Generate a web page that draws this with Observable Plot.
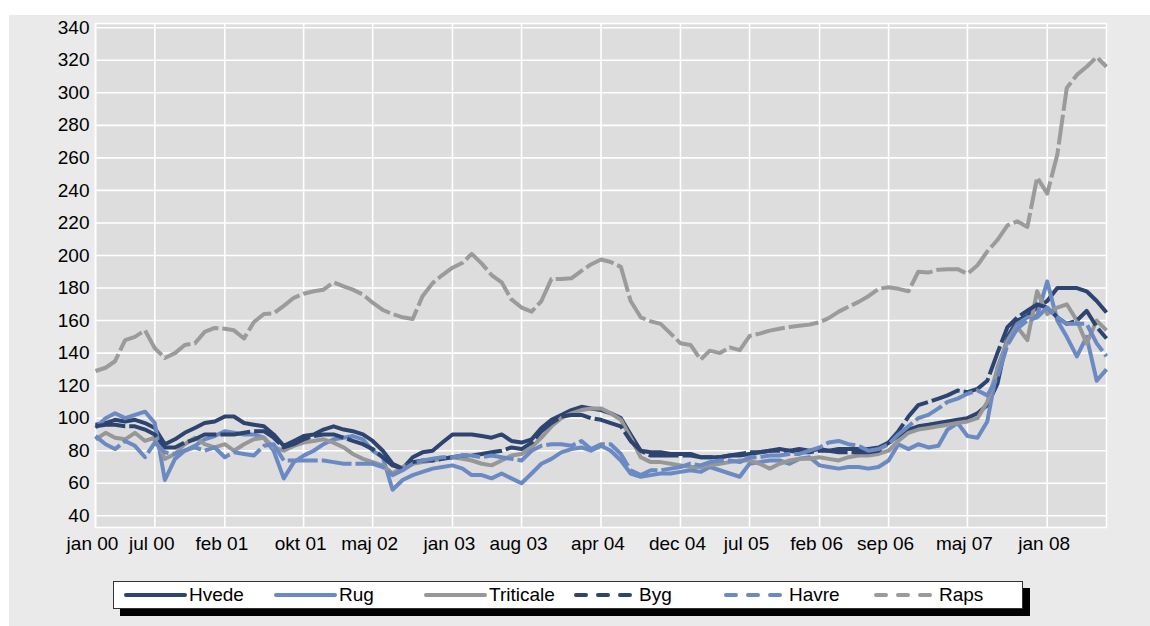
<!DOCTYPE html>
<html>
<head>
<meta charset="utf-8">
<script src="https://cdn.jsdelivr.net/npm/d3@7"></script>
<script src="https://cdn.jsdelivr.net/npm/@observablehq/plot@0.6"></script>
<style>
  html, body { margin: 0; padding: 0; background: #ffffff; }
  #wrap { position: relative; width: 1150px; height: 626px; overflow: hidden; font-family: "Liberation Sans", Arial, sans-serif; }
  #bg { position: absolute; left: 9px; top: 15px; right: 0; bottom: 0; background: #eaeaea; }
  #chart { position: absolute; left: 0; top: 0; }
  #legend { position: absolute; left: 113px; top: 581px; width: 908px; height: 26px; background: #fff;
            border: 1px solid #333; box-shadow: 7px 7px 0 #000; }
  .item { position: absolute; top: 0; height: 26px; display: flex; align-items: center; font-size: 19px; color: #000; }
  .item svg { display: block; margin-right: 2px; }
</style>
</head>
<body>
<div id="wrap">
  <div id="bg"></div>
  <div id="chart"></div>
  <div id="legend"></div>
</div>
<script>
// Monthly observations from jan 2000 to jul 2008 (index 0 = jan 2000)
const startMonth = "2000-01-01";
const endMonthExclusive = "2008-08-01";

const hvede = [96,97,99,98,99,97,94,84,87,91,94,97,98,101,101,97,96,95,90,83,86,89,90,93,95,93,92,90,86,80,72,69,76,79,80,85,90,90,90,89,88,90,86,85,87,94,99,102,105,107,106,105,103,100,90,80,79,79,78,78,78,76,76,76,77,77,78,79,80,81,80,81,80,81,80,81,81,81,81,82,85,89,93,95,96,97,98,99,100,103,108,121,150,160,163,168,172,180,180,180,178,172,165];
const rug = [94,100,103,100,102,104,97,62,75,80,83,87,89,92,91,90,90,88,80,63,73,77,80,84,87,88,89,87,80,76,56,62,65,67,69,70,71,69,65,65,63,66,63,60,66,72,75,79,81,82,80,83,80,74,66,64,65,66,66,67,68,67,70,68,66,64,72,73,74,74,72,75,76,71,70,69,70,70,69,70,74,84,81,84,82,83,93,97,89,88,98,131,148,158,162,163,184,160,150,138,150,123,130];
const triticale = [87,91,88,87,91,86,88,75,78,84,88,84,82,84,80,84,87,88,82,80,83,85,86,87,85,82,78,75,73,71,66,70,72,73,74,75,76,75,74,72,71,74,77,78,82,88,95,100,103,105,106,106,103,99,88,76,73,73,72,71,70,70,71,72,73,74,74,72,69,72,74,75,75,76,75,74,76,77,77,78,80,86,91,93,94,95,96,97,98,100,110,130,147,156,148,178,164,168,170,160,146,160,154];
const byg = [95,96,96,95,95,93,90,82,82,85,87,90,90,90,90,91,92,92,88,82,84,87,89,90,90,88,86,84,81,76,71,69,73,74,74,75,76,77,77,78,79,80,82,81,85,92,97,101,102,102,100,99,97,95,86,80,77,77,77,77,77,76,76,76,77,78,79,79,80,80,80,79,79,80,80,79,79,79,79,80,85,92,101,108,110,112,114,117,116,118,123,140,156,162,166,170,168,162,158,160,166,156,149];
const havre = [89,84,81,86,83,76,85,79,78,80,82,80,82,76,79,78,77,83,84,74,74,74,74,74,73,72,72,72,72,70,65,68,72,74,75,76,76,77,77,76,77,76,75,74,80,83,84,84,83,86,81,84,84,78,68,65,68,68,69,70,72,71,73,74,74,73,76,76,77,77,78,78,80,82,85,86,84,83,80,81,84,90,95,100,102,106,110,112,115,117,114,125,145,155,160,162,168,162,158,158,158,146,138];
const raps = [129,131,135,148,150,154,143,137,140,145,146,153,155.5,155,154,149,159,164,164.5,169,174,176.5,178,179,183.5,181,179,176,171,166.5,164,162,161,175,183,188,192.5,195.5,201,195,188,183.5,173,168,165.5,172,185.6,185.6,186,190.5,194.5,197.5,196,193,172,162,159.5,158,152,146,145,136,141.5,140,143.5,141.8,150.5,152,153.8,155,156,156.8,157.5,159,161.5,165.5,168.5,171.5,175,179.5,180.5,179.5,178,190,189.5,191.3,191.5,191.6,188.7,194,202.5,209.5,218.5,221,217.5,248,238,262,303,311,316,322,316];

const seriesNames = ["Hvede","Rug","Triticale","Byg","Havre","Raps"];
const seriesValues = [hvede, rug, triticale, byg, havre, raps];
const seriesColors = ["#2d4471","#6b89c2","#979797","#2d4471","#6b89c2","#9b9b9b"];
const seriesDashed = [false,false,false,true,true,true];

const yTicks = [40,60,80,100,120,140,160,180,200,220,240,260,280,300,320,340];
const xTickDates = ["2000-01-01","2000-07-01","2001-02-01","2001-10-01","2002-05-01","2003-01-01","2003-08-01","2004-04-01","2004-12-01","2005-07-01","2006-02-01","2006-09-01","2007-05-01","2008-01-01"];
const xTickLabels = ["jan 00","jul 00","feb 01","okt 01","maj 02","jan 03","aug 03","apr 04","dec 04","jul 05","feb 06","sep 06","maj 07","jan 08"];

const months = d3.utcMonth.range(new Date(startMonth), new Date(endMonthExclusive));
const tickDates = xTickDates.map(d => new Date(d));

const lineMarks = seriesNames.map((name, k) => {
  const rows = seriesValues[k].map((v, i) => ({date: months[i], value: v}));
  return Plot.line(rows, {
    x: "date", y: "value",
    stroke: seriesColors[k], strokeWidth: 4,
    strokeDasharray: seriesDashed[k] ? "30,4" : null,
    strokeLinejoin: "round", strokeLinecap: "butt"
  });
});

const plot = Plot.plot({
  width: 1150,
  height: 560,
  marginLeft: 95,
  marginRight: 44,
  marginTop: 23,
  marginBottom: 33,
  style: {background: "transparent", fontSize: "19px", fontFamily: "'Liberation Sans', Arial, sans-serif", color: "#000"},
  x: {type: "utc", domain: [new Date(startMonth), new Date("2008-07-01")], axis: null, label: null},
  y: {domain: [32.8, 342.6], axis: null, label: null},
  marks: [
    Plot.frame({fill: "#dddddd", stroke: null}),
    Plot.gridY(yTicks, {stroke: "#ffffff", strokeOpacity: 1, strokeWidth: 1.6}),
    Plot.gridX(tickDates, {stroke: "#ffffff", strokeOpacity: 1, strokeWidth: 1.6}),
    Plot.frame({stroke: "#ffffff", strokeWidth: 1.6}),
    ...lineMarks,
    Plot.axisY(yTicks, {tickSize: 0, tickPadding: 6, fontSize: 19, fill: "#000", label: null}),
    Plot.axisX(tickDates, {tickSize: 0, tickPadding: 9, fontSize: 19, fill: "#000", dx: -3, label: null,
      tickFormat: (d) => xTickLabels[tickDates.findIndex(t => +t === +d)]})
  ]
});
document.getElementById("chart").appendChild(plot);

// Legend
const legend = document.getElementById("legend");
seriesNames.forEach((name, k) => {
  const item = document.createElement("div");
  item.className = "item";
  item.style.left = (9 + k * 150) + "px";
  const ns = "http://www.w3.org/2000/svg";
  const svg = document.createElementNS(ns, "svg");
  svg.setAttribute("width", 64);
  svg.setAttribute("height", 10);
  const ln = document.createElementNS(ns, "line");
  ln.setAttribute("x1", 3); ln.setAttribute("x2", 62);
  ln.setAttribute("y1", 5); ln.setAttribute("y2", 5);
  ln.setAttribute("stroke", seriesColors[k]);
  ln.setAttribute("stroke-width", 4);
  ln.setAttribute("stroke-linecap", "round");
  if (seriesDashed[k]) ln.setAttribute("stroke-dasharray", "10,12");
  svg.appendChild(ln);
  item.appendChild(svg);
  const t = document.createElement("span");
  t.textContent = name;
  item.appendChild(t);
  legend.appendChild(item);
});
</script>
</body>
</html>
